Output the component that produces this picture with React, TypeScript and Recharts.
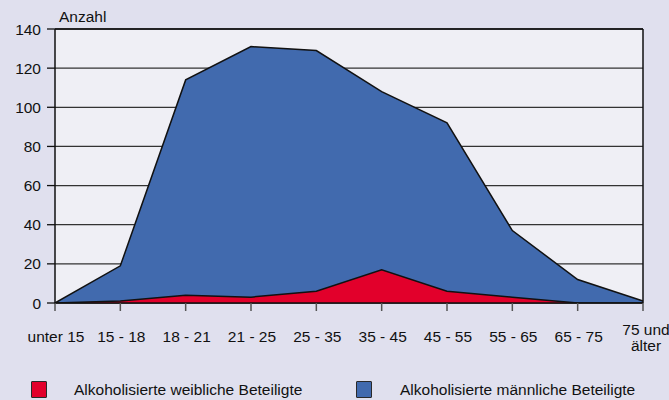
import { AreaChart, Area, XAxis, YAxis, CartesianGrid, ReferenceLine } from 'recharts'

const ageGroups = ['unter 15', '15 - 18', '18 - 21', '21 - 25', '25 - 35', '35 - 45', '45 - 55', '55 - 65', '65 - 75', '75 und älter']
const maleValues = [0, 19, 114, 131, 129, 108, 92, 37, 12, 1]
const femaleValues = [0, 1, 4, 3, 6, 17, 6, 3, 0, 0]
const yTicks = [0, 20, 40, 60, 80, 100, 120, 140]

const data = ageGroups.map((group, i) => ({
	group,
	male: maleValues[i],
	female: femaleValues[i],
}))

const font = 'Liberation Sans, Arial, sans-serif'
const FS = 15.5
const RED = '#e2002b'
const BLUE = '#416aae'

function AgeTick({ x, y, payload }: any) {
	const label: string = payload.value
	if (label === '75 und älter') {
		return (
			<text x={x + 3} y={y + 22} textAnchor="middle" fontSize={FS} fontFamily={font} fill="#111">
				<tspan x={x + 3} dy={0}>75 und</tspan>
				<tspan x={x + 3} dy={16}>älter</tspan>
			</text>
		)
	}
	return (
		<text x={x + 1} y={y + 29} textAnchor="middle" fontSize={FS} fontFamily={font} fill="#111">
			{label}
		</text>
	)
}

function LegendItem({ color, label, left, textLeft }: { color: string; label: string; left: number; textLeft: number }) {
	return (
		<>
			<div style={{ position: 'absolute', left, top: 381, width: 14, height: 15, background: color, border: '1.5px solid #2a2a2a', borderRadius: 1 }} />
			<div style={{ position: 'absolute', left: textLeft, top: 381, lineHeight: '17px', fontSize: FS, fontFamily: font, color: '#111', whiteSpace: 'nowrap' }}>{label}</div>
		</>
	)
}

export default function App() {
	return (
		<div style={{ position: 'absolute', left: 0, top: 0, width: 669, height: 400, background: '#e0e0ee', overflow: 'hidden' }}>
			<div style={{ position: 'absolute', left: 59, top: 8, lineHeight: '18px', fontSize: FS, fontFamily: font, color: '#111' }}>Anzahl</div>
			<AreaChart width={669} height={400} data={data} margin={{ top: 29, right: 26, left: 0, bottom: 57 }}>
				<CartesianGrid vertical={false} stroke="#333" strokeWidth={1.3} fill="#efeff5" />
				<XAxis
					dataKey="group"
					tick={<AgeTick />}
					tickLine={{ stroke: '#555', strokeWidth: 1.5 }}
					axisLine={{ stroke: '#111', strokeWidth: 1.5 }}
					tickSize={8}
					interval={0}
					height={40}
				/>
				<YAxis
					domain={[0, 140]}
					ticks={yTicks}
					width={55}
					tickSize={8}
					tickMargin={6}
					tickLine={{ stroke: '#111', strokeWidth: 1.3 }}
					axisLine={{ stroke: '#111', strokeWidth: 1.5 }}
					tick={{ fontSize: FS, fontFamily: font, fill: '#111' }}
					allowDataOverflow
				/>
				<Area type="linear" dataKey="male" stroke="#111" strokeWidth={1.5} fill={BLUE} fillOpacity={1} isAnimationActive={false} />
				<Area type="linear" dataKey="female" stroke="#111" strokeWidth={1.5} fill={RED} fillOpacity={1} isAnimationActive={false} />
				<ReferenceLine y={140} stroke="#111" strokeWidth={1.5} />
				<ReferenceLine x="75 und älter" stroke="#111" strokeWidth={1.5} />
			</AreaChart>
			<LegendItem color={RED} label="Alkoholisierte weibliche Beteiligte" left={31} textLeft={74} />
			<LegendItem color={BLUE} label="Alkoholisierte männliche Beteiligte" left={356} textLeft={400} />
		</div>
	)
}
